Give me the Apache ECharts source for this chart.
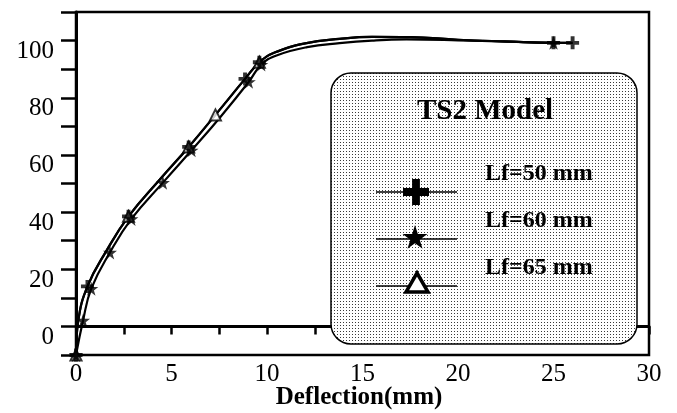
<!DOCTYPE html>
<html>
<head>
<meta charset="utf-8">
<title>TS2 Model</title>
<script src="https://cdn.jsdelivr.net/npm/echarts@6/dist/echarts.min.js"></script>
<style>
html, body { margin: 0; padding: 0; background: #fff; }
#chart { width: 677px; height: 413px; }
</style>
</head>
<body>
<div id="chart"></div>
<script>
// values, y in the units printed on the axis
var xLabels = [0, 5, 10, 15, 20, 25, 30];
var yLabels = [0, 20, 40, 60, 80, 100];
var names = ['Lf=50 mm', 'Lf=60 mm', 'Lf=65 mm'];

// upper / left curve
var lf50Curve = [[0, -10], [0.12, 2], [0.6, 14], [1.6, 26.5], [2.75, 38.5], [4.4, 51.5], [5.9, 62.8],
    [7.3, 74], [8.85, 86.6], [9.6, 92.4], [10.4, 95.8], [12, 99], [13.8, 100.6], [15.5, 101.3],
    [17.5, 101.2], [20, 100.3], [22.5, 99.7], [25, 99.2], [26, 99.2]];
var lf50Marks = [[0, -10], [0.6, 14], [2.75, 38.5], [5.9, 62.8], [8.85, 86.6], [9.6, 92.4], [25, 99.2], [26, 99.2]];

// lower / right curve
var lf60Curve = [[0, -10], [0.37, 2.1], [0.8, 13.2], [1.78, 25.9], [2.9, 37.6], [4.55, 50.3], [6.05, 61.6],
    [7.55, 73.2], [9.05, 85.6], [9.7, 91.6], [10.5, 94.8], [12.1, 97.7], [13.8, 99.1], [15.5, 100],
    [17.3, 100.4], [20, 100.1], [22.5, 99.6], [25, 99.2]];
var lf60Marks = [[0, -10], [0.37, 2.1], [0.8, 13.2], [1.78, 25.9], [2.9, 37.6], [4.55, 50.3], [6.05, 61.6],
    [9.05, 85.6], [9.7, 91.6], [25, 99.2]];

// Lf=65 lies on top of the Lf=50 curve
var lf65Curve = lf50Curve;
var lf65Marks = [[0, -10], [2.75, 38.5], [5.9, 62.8], [7.3, 74], [9.6, 92.4]];

var FONT = '"Liberation Serif", "Times New Roman", serif';

// marker outlines on a 100x100 box
var plusPts = [[35, 0], [65, 0], [65, 35], [100, 35], [100, 65], [65, 65], [65, 100], [35, 100], [35, 65], [0, 65], [0, 35], [35, 35]];
var starPts = [[50, 0], [61, 35], [98, 35], [68, 57], [79, 91], [50, 70], [21, 91], [32, 57], [2, 35], [39, 35]];
function toPath(pts) {
    return 'path://M' + pts.map(function (p) { return p[0] + ',' + p[1]; }).join('L') + 'Z';
}
function place(pts, cx, cy, w, h) {
    return pts.map(function (p) { return [cx + (p[0] - 50) * w / 100, cy + (p[1] - 50) * h / 100]; });
}
var PLUS = toPath(plusPts);
var STAR = toPath(starPts);

// dotted fill of the legend box
var dots = document.createElement('canvas');
dots.width = 3; dots.height = 3;
var g = dots.getContext('2d');
g.fillStyle = '#fff'; g.fillRect(0, 0, 3, 3);
g.fillStyle = '#3a3a3a'; g.fillRect(1, 1, 1, 1);

function lineSeries(name, data) {
    return {
        name: name, type: 'line', data: data, smooth: 0.45,
        symbol: 'none', lineStyle: { color: '#000', width: 2.2 }, z: 2
    };
}
function markSeries(name, data, symbol, size, style) {
    return {
        name: name, type: 'scatter', data: data, symbol: symbol, symbolSize: size,
        itemStyle: style, z: 3
    };
}
function legendText(text, y) {
    return {
        type: 'text', z: 11, x: 485, y: y,
        style: { text: text, font: 'bold 24px ' + FONT, fill: '#000', align: 'left', verticalAlign: 'middle' }
    };
}
function legendLine(y) {
    return { type: 'line', z: 11, shape: { x1: 376, y1: y, x2: 457, y2: y }, style: { stroke: '#000', lineWidth: 1.5 } };
}

var myChart = echarts.init(document.getElementById('chart'));
myChart.setOption({
    animation: false,
    backgroundColor: '#fff',
    grid: {
        left: 76, right: 28, top: 12, bottom: 58, outerBoundsMode: 'none', containLabel: false,
        show: true, borderColor: '#000', borderWidth: 2.5
    },
    xAxis: {
        type: 'value', min: 0, max: 30, interval: 2.5,
        axisLine: { lineStyle: { color: '#000', width: 3 } },
        axisTick: { length: 8, lineStyle: { color: '#000', width: 2.5 } },
        axisLabel: {
            margin: 7, fontFamily: FONT, fontSize: 25, color: '#000',
            formatter: function (v) { return xLabels.indexOf(v) >= 0 ? String(v) : ''; }
        },
        splitLine: { show: false }
    },
    yAxis: {
        type: 'value', min: -10, max: 110, interval: 10,
        axisLine: { show: true, lineStyle: { color: '#000', width: 3 } },
        axisTick: { show: true, length: 15, lineStyle: { color: '#000', width: 2.5 } },
        axisLabel: {
            margin: 22, fontFamily: FONT, fontSize: 25, color: '#000',
            verticalAlign: 'top', lineHeight: 22,
            formatter: function (v) { return yLabels.indexOf(v) >= 0 ? String(v) : ''; }
        },
        splitLine: { show: false }
    },
    series: [
        lineSeries(names[2], lf65Curve),
        lineSeries(names[1], lf60Curve),
        lineSeries(names[0], lf50Curve),
        markSeries(names[2], lf65Marks, 'triangle', 11, { color: '#fff', borderColor: '#000', borderWidth: 2 }),
        markSeries(names[1], lf60Marks, STAR, 14, { color: '#000' }),
        markSeries(names[0], lf50Marks, PLUS, 13, { color: '#000' })
    ],
    graphic: [
        {
            type: 'text', z: 11, x: 359, y: 398,
            style: { text: 'Deflection(mm)', font: 'bold 25px ' + FONT, fill: '#000', align: 'center', verticalAlign: 'middle' }
        },
        {
            type: 'rect', z: 10,
            shape: { x: 331, y: 73, width: 306, height: 271, r: 20 },
            style: { fill: { image: dots, repeat: 'repeat' }, stroke: '#000', lineWidth: 1.5 }
        },
        {
            type: 'text', z: 11, x: 485, y: 112,
            style: { text: 'TS2 Model', font: 'bold 29px ' + FONT, fill: '#000', align: 'center', verticalAlign: 'middle' }
        },
        legendText(names[0], 174),
        legendText(names[1], 221),
        legendText(names[2], 268),
        legendLine(192),
        legendLine(239),
        legendLine(286),
        { type: 'polygon', z: 12, shape: { points: place(plusPts, 416, 192, 26, 26) }, style: { fill: '#000' } },
        { type: 'polygon', z: 12, shape: { points: place(starPts, 415, 238, 26, 26) }, style: { fill: '#000' } },
        {
            type: 'polygon', z: 12,
            shape: { points: [[417, 273], [428, 292], [406, 292]] },
            style: { fill: '#fff', stroke: '#000', lineWidth: 3.5 }
        }
    ]
});
</script>
</body>
</html>
